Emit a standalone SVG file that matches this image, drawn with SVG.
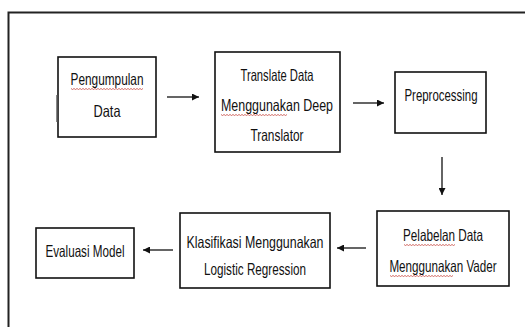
<svg xmlns="http://www.w3.org/2000/svg" width="525" height="327" viewBox="0 0 525 327">
<defs>
<style>
.box{fill:#fff;stroke:#111;stroke-width:1.6}
.t{font-family:"Liberation Sans Narrow","Liberation Sans",Arial,sans-serif;font-size:16.5px;fill:#111;text-anchor:middle}
.ln{stroke:#111;stroke-width:1.3;fill:none}
.sq{stroke:#c0302a;stroke-width:0.7;fill:none}
</style>
<marker id="ah" viewBox="0 0 10 10" refX="10" refY="5" markerWidth="7" markerHeight="7" markerUnits="userSpaceOnUse" orient="auto">
<path d="M0,0 L10,5 L0,10 z" fill="#111"/>
</marker>
</defs>
<rect width="525" height="327" fill="#fff"/>
<path d="M8.5,327 V12.5 H525" fill="none" stroke="#222" stroke-width="2"/>
<g id="n1">
<rect class="box" x="58" y="57" width="98" height="80"/>
<line x1="57" y1="95" x2="57" y2="122" stroke="#555" stroke-width="1.4"/>
<text class="t" x="107" y="85" textLength="73" lengthAdjust="spacingAndGlyphs">Pengumpulan</text>
<text class="t" x="107" y="117" textLength="27" lengthAdjust="spacingAndGlyphs">Data</text>
<path class="sq" d="M71,88.5 l1.5,1 l1.5,-1 l1.5,1 l1.5,-1 l1.5,1 l1.5,-1 l1.5,1 l1.5,-1 l1.5,1 l1.5,-1 l1.5,1 l1.5,-1 l1.5,1 l1.5,-1 l1.5,1 l1.5,-1 l1.5,1 l1.5,-1 l1.5,1 l1.5,-1 l1.5,1 l1.5,-1 l1.5,1 l1.5,-1 l1.5,1 l1.5,-1 l1.5,1 l1.5,-1 l1.5,1 l1.5,-1 l1.5,1 l1.5,-1 l1.5,1 l1.5,-1 l1.5,1 l1.5,-1 l1.5,1 l1.5,-1 l1.5,1 l1.5,-1 l1.5,1 l1.5,-1 l1.5,1 l1.5,-1 l1.5,1 l1.5,-1 l1.5,1 l1.5,-1"/>
</g>
<g id="n2">
<rect class="box" x="215" y="52" width="125" height="100"/>
<text class="t" x="277" y="81" textLength="73" lengthAdjust="spacingAndGlyphs">Translate Data</text>
<text class="t" x="277" y="111" textLength="112" lengthAdjust="spacingAndGlyphs">Menggunakan Deep</text>
<text class="t" x="277" y="141" textLength="53" lengthAdjust="spacingAndGlyphs">Translator</text>
<path class="sq" d="M221,114.5 l1.5,1 l1.5,-1 l1.5,1 l1.5,-1 l1.5,1 l1.5,-1 l1.5,1 l1.5,-1 l1.5,1 l1.5,-1 l1.5,1 l1.5,-1 l1.5,1 l1.5,-1 l1.5,1 l1.5,-1 l1.5,1 l1.5,-1 l1.5,1 l1.5,-1 l1.5,1 l1.5,-1 l1.5,1 l1.5,-1 l1.5,1 l1.5,-1 l1.5,1 l1.5,-1 l1.5,1 l1.5,-1 l1.5,1 l1.5,-1 l1.5,1 l1.5,-1 l1.5,1 l1.5,-1 l1.5,1 l1.5,-1 l1.5,1 l1.5,-1 l1.5,1 l1.5,-1 l1.5,1 l1.5,-1"/>
</g>
<g id="n3">
<rect class="box" x="395" y="72" width="91" height="61"/>
<text class="t" x="441" y="101" textLength="73" lengthAdjust="spacingAndGlyphs">Preprocessing</text>
</g>
<g id="n4">
<rect class="box" x="377" y="211" width="132" height="75"/>
<text class="t" x="443" y="241" textLength="80" lengthAdjust="spacingAndGlyphs">Pelabelan Data</text>
<text class="t" transform="translate(443,272) scale(0.75,1)" x="0" y="0" textLength="143" lengthAdjust="spacingAndGlyphs">Menggunakan Vader</text>
<path class="sq" d="M404,244.5 l1.5,1 l1.5,-1 l1.5,1 l1.5,-1 l1.5,1 l1.5,-1 l1.5,1 l1.5,-1 l1.5,1 l1.5,-1 l1.5,1 l1.5,-1 l1.5,1 l1.5,-1 l1.5,1 l1.5,-1 l1.5,1 l1.5,-1 l1.5,1 l1.5,-1 l1.5,1 l1.5,-1 l1.5,1 l1.5,-1 l1.5,1 l1.5,-1 l1.5,1 l1.5,-1 l1.5,1 l1.5,-1 l1.5,1 l1.5,-1 l1.5,1 l1.5,-1"/>
<path class="sq" d="M390,275.5 l1.5,1 l1.5,-1 l1.5,1 l1.5,-1 l1.5,1 l1.5,-1 l1.5,1 l1.5,-1 l1.5,1 l1.5,-1 l1.5,1 l1.5,-1 l1.5,1 l1.5,-1 l1.5,1 l1.5,-1 l1.5,1 l1.5,-1 l1.5,1 l1.5,-1 l1.5,1 l1.5,-1 l1.5,1 l1.5,-1 l1.5,1 l1.5,-1 l1.5,1 l1.5,-1 l1.5,1 l1.5,-1 l1.5,1 l1.5,-1 l1.5,1 l1.5,-1 l1.5,1 l1.5,-1 l1.5,1 l1.5,-1 l1.5,1 l1.5,-1 l1.5,1 l1.5,-1"/>
</g>
<g id="n5">
<rect class="box" x="180" y="213" width="150" height="75"/>
<text class="t" x="255" y="248" textLength="137" lengthAdjust="spacingAndGlyphs">Klasifikasi Menggunakan</text>
<text class="t" x="255" y="275" textLength="102" lengthAdjust="spacingAndGlyphs">Logistic Regression</text>
</g>
<g id="n6">
<rect class="box" x="36" y="228" width="98" height="50"/>
<text class="t" x="85" y="257" textLength="79" lengthAdjust="spacingAndGlyphs">Evaluasi Model</text>
</g>
<g id="connectors">
<line class="ln" x1="167" y1="97" x2="199" y2="97" marker-end="url(#ah)"/>
<line class="ln" x1="353" y1="103" x2="384" y2="103" marker-end="url(#ah)"/>
<line class="ln" x1="442" y1="157" x2="442" y2="195" marker-end="url(#ah)"/>
<line class="ln" x1="366" y1="248" x2="337" y2="248" marker-end="url(#ah)"/>
<line class="ln" x1="173" y1="250" x2="143" y2="250" marker-end="url(#ah)"/>
</g>
</svg>
